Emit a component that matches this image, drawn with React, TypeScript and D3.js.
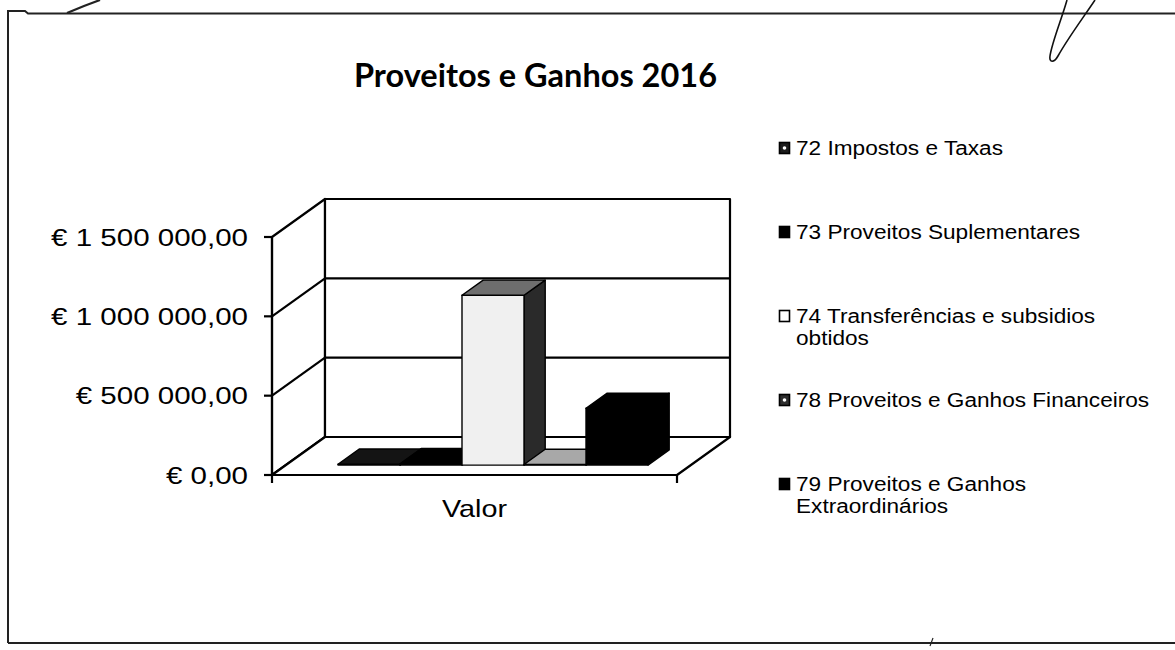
import React from "react";
import * as d3 from "d3";

// ---- data ----
const categories = ["Valor"];
const seriesNames = [
  "72 Impostos e Taxas",
  "73 Proveitos Suplementares",
  "74 Transferências e subsidios obtidos",
  "78 Proveitos e Ganhos Financeiros",
  "79 Proveitos e Ganhos Extraordinários",
];
const legendLines = [
  ["72 Impostos e Taxas"],
  ["73 Proveitos Suplementares"],
  ["74 Transferências e subsidios", "obtidos"],
  ["78 Proveitos e Ganhos Financeiros"],
  ["79 Proveitos e Ganhos", "Extraordinários"],
];
const seriesValues = [6000, 9000, 1070000, 4000, 358000];
const yTicks = [0, 500000, 1000000, 1500000];
const title = "Proveitos e Ganhos 2016";

// ---- styles ----
const frontColors = ["#141414", "#000000", "#f0f0f0", "#9c9c9c", "#000000"];
const topColors = ["#141414", "#000000", "#6e6e6e", "#a8a8a8", "#000000"];
const sideColors = ["#141414", "#000000", "#2a2a2a", "#7a7a7a", "#000000"];
const legendColors = ["#1c1c1c", "#000000", "#ffffff", "#2e2e2e", "#000000"];
const legendDots = [true, false, false, true, false];

const W = 1175;
const H = 650;

export default function App() {
  // plot geometry (oblique 3D projection)
  const x0 = 272;
  const floorW = 405;
  const ox = 53;
  const oy = -38;
  const d1 = 0.26;
  const d2 = 0.66;

  const y = d3.scaleLinear().domain([0, 1500000]).range([475, 237]);
  const xCat = d3.scaleBand().domain(categories).range([0, floorW]);
  const xSer = d3
    .scaleBand()
    .domain(seriesNames)
    .range([0, xCat.bandwidth()])
    .paddingInner(0)
    .paddingOuter(0.766)
    .align(0.55);

  const P = (u: number, v: number, d: number): [number, number] => [
    x0 + u + d * ox,
    y(v) + d * oy,
  ];
  const poly = (pts: [number, number][]) =>
    pts.map((p) => p[0].toFixed(1) + "," + p[1].toFixed(1)).join(" ");

  const locale = d3.formatLocale({
    decimal: ",",
    thousands: " ",
    grouping: [3],
    currency: ["€ ", ""],
  });
  const fmt = locale.format("$,.2f");

  const vMax = 1500000;
  const axisFont = "'Liberation Sans', Arial, sans-serif";
  const stroke = "#000";

  return (
    <svg
      width={W}
      height={H}
      style={{ position: "absolute", left: 0, top: 0, display: "block", background: "#fff" }}
    >
      {/* scan frame */}
      <g stroke="#222" strokeWidth={2} fill="none">
        <polyline points="8,643 8,11 25,11 28,13.5 1175,13.5" />
        <line x1={8} y1={643} x2={1175} y2={643} />
        <path d="M67,13 L84,6 L100,0" strokeWidth={2.2} />
        <path
          d="M1067,0 C1062,18 1052,42 1050,56 C1049,63 1054,63 1058,56 C1068,38 1083,18 1095,0"
          strokeWidth={1.6}
          stroke="#111"
        />
        <path d="M930,646 L933,638" strokeWidth={1.2} />
      </g>

      {/* title */}
      <text
        x={354}
        y={87}
        textLength={363}
        lengthAdjust="spacingAndGlyphs"
        fontFamily="Lato, 'Open Sans', sans-serif"
        fontWeight={700}
        fontSize={32}
        fill="#000"
      >
        {title}
      </text>

      {/* walls and floor */}
      <g stroke={stroke} strokeWidth={2.2} strokeLinejoin="round">
        <polygon points={poly([P(0, 0, 0), P(0, vMax, 0), P(0, vMax, 1), P(0, 0, 1)])} fill="#fff" />
        <polygon
          points={poly([P(0, 0, 1), P(0, vMax, 1), P(floorW, vMax, 1), P(floorW, 0, 1)])}
          fill="#fff"
        />
        <polygon
          points={poly([P(0, 0, 0), P(floorW, 0, 0), P(floorW, 0, 1), P(0, 0, 1)])}
          fill="#fff"
        />
        {yTicks
          .filter((t) => t > 0 && t < vMax)
          .map((t) => (
            <g key={"g" + t}>
              <line x1={P(0, t, 0)[0]} y1={P(0, t, 0)[1]} x2={P(0, t, 1)[0]} y2={P(0, t, 1)[1]} />
              <line x1={P(0, t, 1)[0]} y1={P(0, t, 1)[1]} x2={P(floorW, t, 1)[0]} y2={P(floorW, t, 1)[1]} />
            </g>
          ))}
      </g>

      {/* bars */}
      <g stroke="#000" strokeWidth={1.4} strokeLinejoin="round">
        {seriesNames.map((s, i) => {
          const v = seriesValues[i];
          const u0 = (xCat(categories[0]) ?? 0) + (xSer(s) ?? 0);
          const u1 = u0 + xSer.bandwidth();
          const front = [P(u0, 0, d1), P(u1, 0, d1), P(u1, v, d1), P(u0, v, d1)] as [number, number][];
          const top = [P(u0, v, d1), P(u1, v, d1), P(u1, v, d2), P(u0, v, d2)] as [number, number][];
          const side = [P(u1, 0, d1), P(u1, 0, d2), P(u1, v, d2), P(u1, v, d1)] as [number, number][];
          return (
            <g key={s}>
              <polygon points={poly(side)} fill={sideColors[i]} />
              <polygon points={poly(front)} fill={frontColors[i]} />
              <polygon points={poly(top)} fill={topColors[i]} />
            </g>
          );
        })}
      </g>

      {/* axes */}
      <g stroke={stroke} strokeWidth={2.2}>
        <line x1={x0} y1={y(0)} x2={x0} y2={y(vMax)} />
        <line x1={x0} y1={y(0)} x2={x0 + floorW} y2={y(0)} />
        {yTicks.map((t) => (
          <line key={"t" + t} x1={x0 - 8} y1={y(t)} x2={x0} y2={y(t)} />
        ))}
        {[0, floorW].map((u) => (
          <line key={"c" + u} x1={x0 + u} y1={y(0)} x2={x0 + u} y2={y(0) + 8} />
        ))}
      </g>
      <g fontFamily={axisFont} fontSize={24} fill="#000">
        {yTicks.map((t) => (
          <text
            key={"l" + t}
            transform={`translate(248,${y(t) + 8.5}) scale(1.23,1)`}
            textAnchor="end"
          >
            {fmt(t)}
          </text>
        ))}
        <text
          transform={`translate(${x0 + (xCat(categories[0]) ?? 0) + xCat.bandwidth() / 2},517) scale(1.2,1)`}
          textAnchor="middle"
        >
          {categories[0]}
        </text>
      </g>

      {/* legend */}
      <g fontFamily={axisFont} fontSize={19.5} fill="#000">
        {legendLines.map((lines, i) => {
          const by = 155 + i * 84;
          return (
            <g key={"lg" + i}>
              <rect
                x={779.5}
                y={by - 12.5}
                width={10}
                height={11}
                fill={legendColors[i]}
                stroke="#000"
                strokeWidth={1.6}
              />
              {legendDots[i] && <circle cx={784.5} cy={by - 7} r={1.8} fill="#fff" />}
              <text transform={`translate(796,${by}) scale(1.16,1)`}>
                {lines.map((ln, j) => (
                  <tspan key={j} x={0} dy={j === 0 ? 0 : 22.5}>
                    {ln}
                  </tspan>
                ))}
              </text>
            </g>
          );
        })}
      </g>
    </svg>
  );
}
